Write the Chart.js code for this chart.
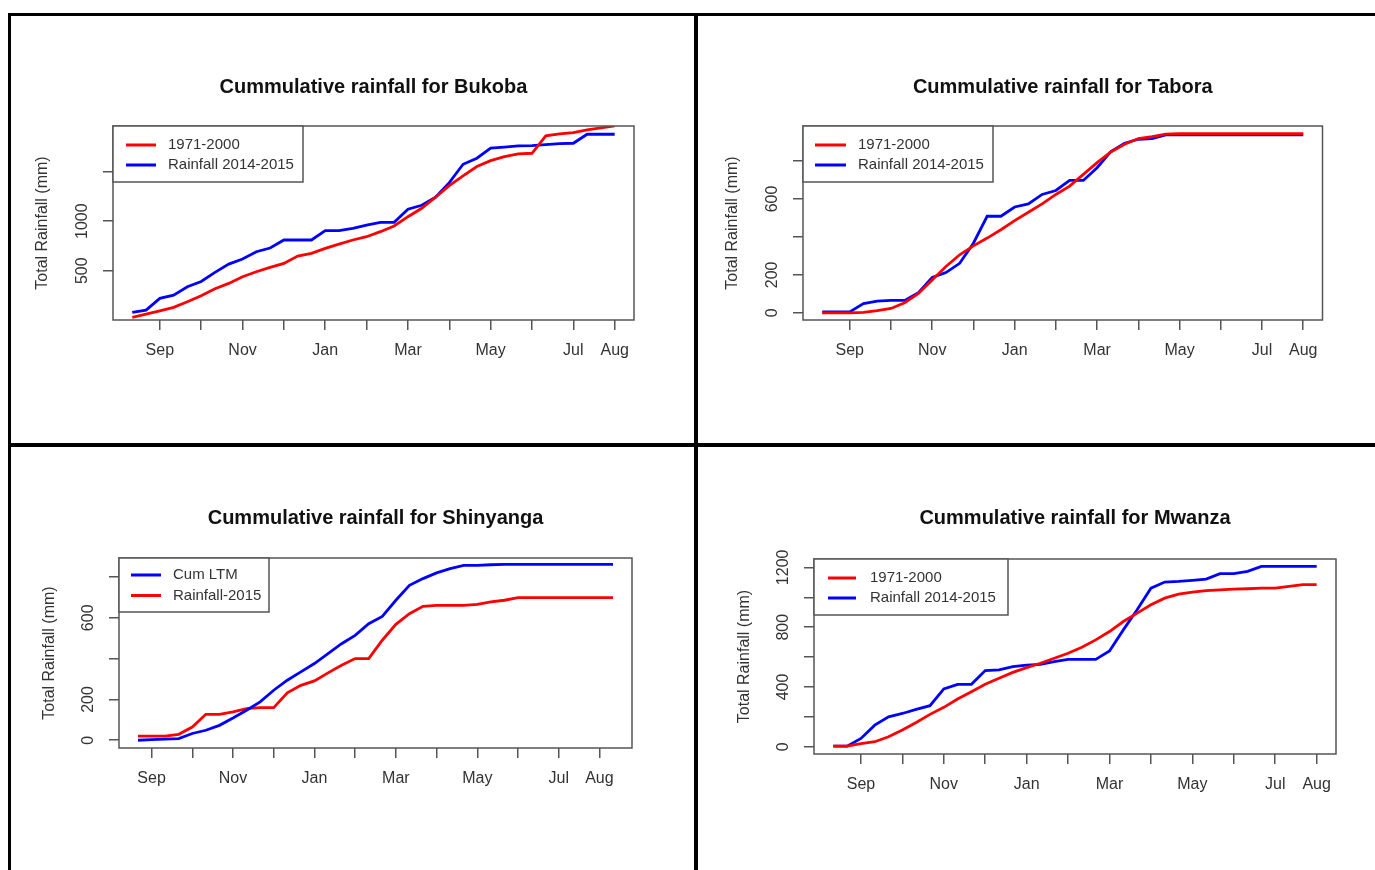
<!DOCTYPE html>
<html>
<head>
<meta charset="utf-8">
<title>Cummulative rainfall</title>
<script src="https://cdn.jsdelivr.net/npm/chart.js@4.4.1/dist/chart.umd.min.js"></script>
<style>
  html, body { margin: 0; padding: 0; background: #fff; overflow: hidden; }
  body { width: 1375px; height: 870px; position: relative; }
  .panel { position: absolute; border: 3px solid #000; box-sizing: border-box; }
  canvas { position: absolute; }
</style>
</head>
<body>
<div class="panel" style="left:8px;top:13px;width:689px;height:433px"></div>
<div class="panel" style="left:695px;top:13px;width:700px;height:433px"></div>
<div class="panel" style="left:8px;top:444px;width:689px;height:440px"></div>
<div class="panel" style="left:695px;top:444px;width:700px;height:440px"></div>

<script>
// x axis: months of the season, only some get a label (like R does)
const seasonMonths = ['Sep', 'Oct', 'Nov', 'Dec', 'Jan', 'Feb', 'Mar', 'Apr', 'May', 'Jun', 'Jul', 'Aug'];
const labelledMonths = ['Sep', 'Nov', 'Jan', 'Mar', 'May', 'Jul', 'Aug'];

// dekadal cumulative rainfall (mm), 36 dekads per season
// Bukoba / Tabora / Mwanza start 11 Aug, Shinyanga starts 21 Aug
const bukobaLtm = [29, 62, 96, 130, 187, 247, 318, 372, 439, 490, 534, 574, 648, 675, 726, 769, 810, 843,
  894, 951, 1045, 1130, 1241, 1359, 1456, 1551, 1611, 1652, 1678, 1685, 1860, 1880, 1894, 1921, 1941, 1961];
const bukoba1415 = [79, 103, 221, 254, 338, 392, 483, 567, 618, 692, 729, 810, 810, 810, 904, 904, 928, 961,
  988, 988, 1120, 1160, 1241, 1389, 1574, 1635, 1736, 1746, 1759, 1763, 1773, 1783, 1786, 1877, 1877, 1877];

const taboraLtm = [0, 0, 0, 2, 11, 23, 53, 102, 173, 244, 306, 353, 394, 438, 486, 530, 574, 624,
  668, 730, 792, 848, 889, 919, 929, 942, 945, 945, 945, 945, 945, 945, 945, 945, 945, 945];
const tabora1415 = [5, 5, 5, 49, 62, 65, 65, 106, 187, 212, 261, 367, 509, 509, 558, 574, 624, 645,
  698, 698, 765, 850, 894, 915, 919, 938, 938, 938, 938, 938, 938, 938, 938, 938, 938, 938];

const shinyangaLtm = [0, 3, 5, 8, 33, 49, 73, 109, 147, 188, 245, 294, 335, 376, 424, 473, 514, 571,
  607, 686, 759, 792, 820, 841, 857, 857, 860, 862, 862, 862, 862, 862, 862, 862, 862, 862];
const shinyanga2015 = [20, 20, 20, 29, 65, 127, 127, 139, 155, 160, 160, 232, 269, 291, 330, 367, 400, 400,
  490, 568, 620, 656, 661, 661, 661, 666, 678, 686, 699, 699, 699, 699, 699, 699, 699, 699];

const mwanzaLtm = [4, 4, 22, 34, 67, 112, 163, 217, 264, 320, 369, 418, 458, 498, 530, 559, 592, 626,
  666, 715, 771, 838, 894, 950, 994, 1021, 1035, 1044, 1050, 1055, 1057, 1061, 1061, 1073, 1084, 1084];
const mwanza1415 = [4, 4, 56, 145, 201, 223, 250, 275, 387, 418, 418, 510, 514, 536, 547, 552, 570, 585,
  585, 585, 641, 782, 916, 1061, 1102, 1106, 1113, 1122, 1158, 1158, 1173, 1207, 1207, 1207, 1207, 1207];

// y axis ticks (all) and the ones that carry a label
const bukobaYTicks = [500, 1000, 1500];
const bukobaYLabels = [500, 1000];
const taboraYTicks = [0, 200, 400, 600, 800];
const taboraYLabels = [0, 200, 600];
const shinyangaYTicks = [0, 200, 400, 600, 800];
const shinyangaYLabels = [0, 200, 600];
const mwanzaYTicks = [0, 200, 400, 600, 800, 1000, 1200];
const mwanzaYLabels = [0, 400, 800, 1200];

const RED = '#ff0000';
const BLUE = '#0000ff';
const FONT = '"Liberation Sans", Arial, sans-serif';
Chart.defaults.font.family = FONT;

// x in months after 1 Sep, one point per dekad
function toPoints(values, firstDekad) {
  return values.map((v, i) => ({ x: firstDekad + i / 3, y: v }));
}

// plot frame like R's box()
const rBox = {
  id: 'rBox',
  afterDatasetsDraw(chart) {
    const { ctx, chartArea: a } = chart;
    ctx.save();
    ctx.strokeStyle = '#555';
    ctx.lineWidth = 1.5;
    ctx.strokeRect(a.left, a.top, a.right - a.left, a.bottom - a.top);
    ctx.restore();
  }
};

// y tick labels turned 90 degrees (las = 0)
const rYLabels = {
  id: 'rYLabels',
  afterDraw(chart, args, o) {
    const { ctx, chartArea: a } = chart;
    const y = chart.scales.y;
    ctx.save();
    ctx.font = '16px ' + FONT;
    ctx.fillStyle = '#333';
    ctx.textAlign = 'center';
    ctx.textBaseline = 'middle';
    o.values.forEach(v => {
      ctx.save();
      ctx.translate(a.left - 30, y.getPixelForValue(v));
      ctx.rotate(-Math.PI / 2);
      ctx.fillText(String(v), 0, 0);
      ctx.restore();
    });
    ctx.restore();
  }
};

// boxed legend in the top left corner of the plot
const rLegend = {
  id: 'rLegend',
  afterDraw(chart, args, o) {
    const { ctx, chartArea: a } = chart;
    ctx.save();
    ctx.fillStyle = '#fff';
    ctx.fillRect(a.left, a.top, o.width, o.height);
    ctx.strokeStyle = '#555';
    ctx.lineWidth = 1.5;
    ctx.strokeRect(a.left, a.top, o.width, o.height);
    ctx.font = '15px ' + FONT;
    ctx.textBaseline = 'middle';
    chart.data.datasets.forEach((ds, i) => {
      const yy = a.top + o.rows[i];
      ctx.strokeStyle = ds.borderColor;
      ctx.lineWidth = 3;
      ctx.beginPath();
      ctx.moveTo(a.left + o.lineFrom, yy);
      ctx.lineTo(a.left + o.lineTo, yy);
      ctx.stroke();
      ctx.fillStyle = '#333';
      ctx.fillText(ds.label, a.left + o.textX, yy);
    });
    ctx.restore();
  }
};

function drawRainChart(p) {
  const c = document.createElement('canvas');
  c.width = p.canvas.width;
  c.height = p.canvas.height;
  c.style.left = p.canvas.left + 'px';
  c.style.top = p.canvas.top + 'px';
  document.body.appendChild(c);

  const ox = p.canvas.left, oy = p.canvas.top;
  const box = { left: p.box.left - ox, top: p.box.top - oy, right: p.box.right - ox, bottom: p.box.bottom - oy };
  const titleLH = 24;  // 20px * 1.2
  const xAxisH = 50;
  const titleY = p.titleY - oy;

  const axisGrid = { display: true, drawOnChartArea: false, drawTicks: true, tickLength: 10, color: '#555', lineWidth: 1.5 };

  return new Chart(c, {
    type: 'line',
    data: {
      datasets: p.series.map(s => ({
        label: s.label,
        data: toPoints(s.values, p.firstDekad),
        borderColor: s.color,
        backgroundColor: s.color,
        borderWidth: 2.8,
        pointRadius: 0,
        tension: 0,
        fill: false
      }))
    },
    options: {
      responsive: false,
      animation: false,
      events: [],
      devicePixelRatio: 1,
      layout: { padding: { left: 0, top: 0, right: c.width - box.right, bottom: c.height - box.bottom - xAxisH } },
      plugins: {
        legend: { display: false },
        tooltip: { enabled: false },
        title: {
          display: true,
          text: p.title,
          fullSize: false,
          color: '#111',
          font: { size: 20, weight: 'bold', lineHeight: 1.2 },
          padding: { top: titleY - titleLH / 2, bottom: box.top - titleY - titleLH / 2 }
        },
        rYLabels: { values: p.yLabels },
        rLegend: p.legend
      },
      scales: {
        x: {
          type: 'linear',
          min: p.xMin,
          max: p.xMax,
          afterBuildTicks: s => { s.ticks = seasonMonths.map((m, i) => ({ value: i })); },
          afterFit: s => { s.height = xAxisH; },
          grid: axisGrid,
          border: { display: false },
          ticks: {
            autoSkip: false,
            maxRotation: 0,
            minRotation: 0,
            padding: 11.4,
            color: '#333',
            font: { size: 16 },
            callback: v => {
              const m = seasonMonths[Math.round(v)];
              return labelledMonths.includes(m) ? m : '';
            }
          }
        },
        y: {
          type: 'linear',
          min: p.yMin,
          max: p.yMax,
          afterBuildTicks: s => { s.ticks = p.yTicks.map(v => ({ value: v })); },
          afterFit: s => { s.width = box.left; },
          grid: axisGrid,
          border: { display: false },
          ticks: { display: false },
          title: {
            display: true,
            text: 'Total Rainfall (mm)',
            color: '#333',
            font: { size: 16, lineHeight: 1.2 },
            padding: { top: p.ylabX - ox - 9.6, bottom: 0 }
          }
        }
      }
    },
    plugins: [rBox, rYLabels, rLegend]
  });
}

drawRainChart({
  title: 'Cummulative rainfall for Bukoba',
  canvas: { left: 11, top: 16, width: 683, height: 427 },
  box: { left: 113, top: 126, right: 634, bottom: 320 },
  titleY: 87, ylabX: 43,
  xMin: -1.133, xMax: 11.467, yMin: 3, yMax: 1960,
  firstDekad: -2 / 3,
  yTicks: bukobaYTicks, yLabels: bukobaYLabels,
  series: [
    { label: '1971-2000', values: bukobaLtm, color: RED },
    { label: 'Rainfall 2014-2015', values: bukoba1415, color: BLUE }
  ],
  legend: { width: 190, height: 56, lineFrom: 13, lineTo: 43, textX: 55, rows: [19, 39] }
});

drawRainChart({
  title: 'Cummulative rainfall for Tabora',
  canvas: { left: 698, top: 16, width: 677, height: 427 },
  box: { left: 803, top: 126, right: 1322.5, bottom: 320 },
  titleY: 87, ylabX: 733,
  xMin: -1.133, xMax: 11.467, yMin: -38, yMax: 985,
  firstDekad: -2 / 3,
  yTicks: taboraYTicks, yLabels: taboraYLabels,
  series: [
    { label: '1971-2000', values: taboraLtm, color: RED },
    { label: 'Rainfall 2014-2015', values: tabora1415, color: BLUE }
  ],
  legend: { width: 190, height: 56, lineFrom: 12, lineTo: 43, textX: 55, rows: [19, 39] }
});

drawRainChart({
  title: 'Cummulative rainfall for Shinyanga',
  canvas: { left: 11, top: 447, width: 683, height: 423 },
  box: { left: 119, top: 558, right: 632, bottom: 748 },
  titleY: 518, ylabX: 50,
  xMin: -0.8, xMax: 11.8, yMin: -38, yMax: 893,
  firstDekad: -1 / 3,
  yTicks: shinyangaYTicks, yLabels: shinyangaYLabels,
  series: [
    { label: 'Cum LTM', values: shinyangaLtm, color: BLUE },
    { label: 'Rainfall-2015', values: shinyanga2015, color: RED }
  ],
  legend: { width: 150, height: 54, lineFrom: 12, lineTo: 42, textX: 54, rows: [17, 37.5] }
});

drawRainChart({
  title: 'Cummulative rainfall for Mwanza',
  canvas: { left: 698, top: 447, width: 677, height: 423 },
  box: { left: 814, top: 559, right: 1336, bottom: 754 },
  titleY: 518, ylabX: 745,
  xMin: -1.133, xMax: 11.467, yMin: -48, yMax: 1256,
  firstDekad: -2 / 3,
  yTicks: mwanzaYTicks, yLabels: mwanzaYLabels,
  series: [
    { label: '1971-2000', values: mwanzaLtm, color: RED },
    { label: 'Rainfall 2014-2015', values: mwanza1415, color: BLUE }
  ],
  legend: { width: 194, height: 56, lineFrom: 14, lineTo: 42, textX: 56, rows: [19, 39] }
});
</script>
</body>
</html>
